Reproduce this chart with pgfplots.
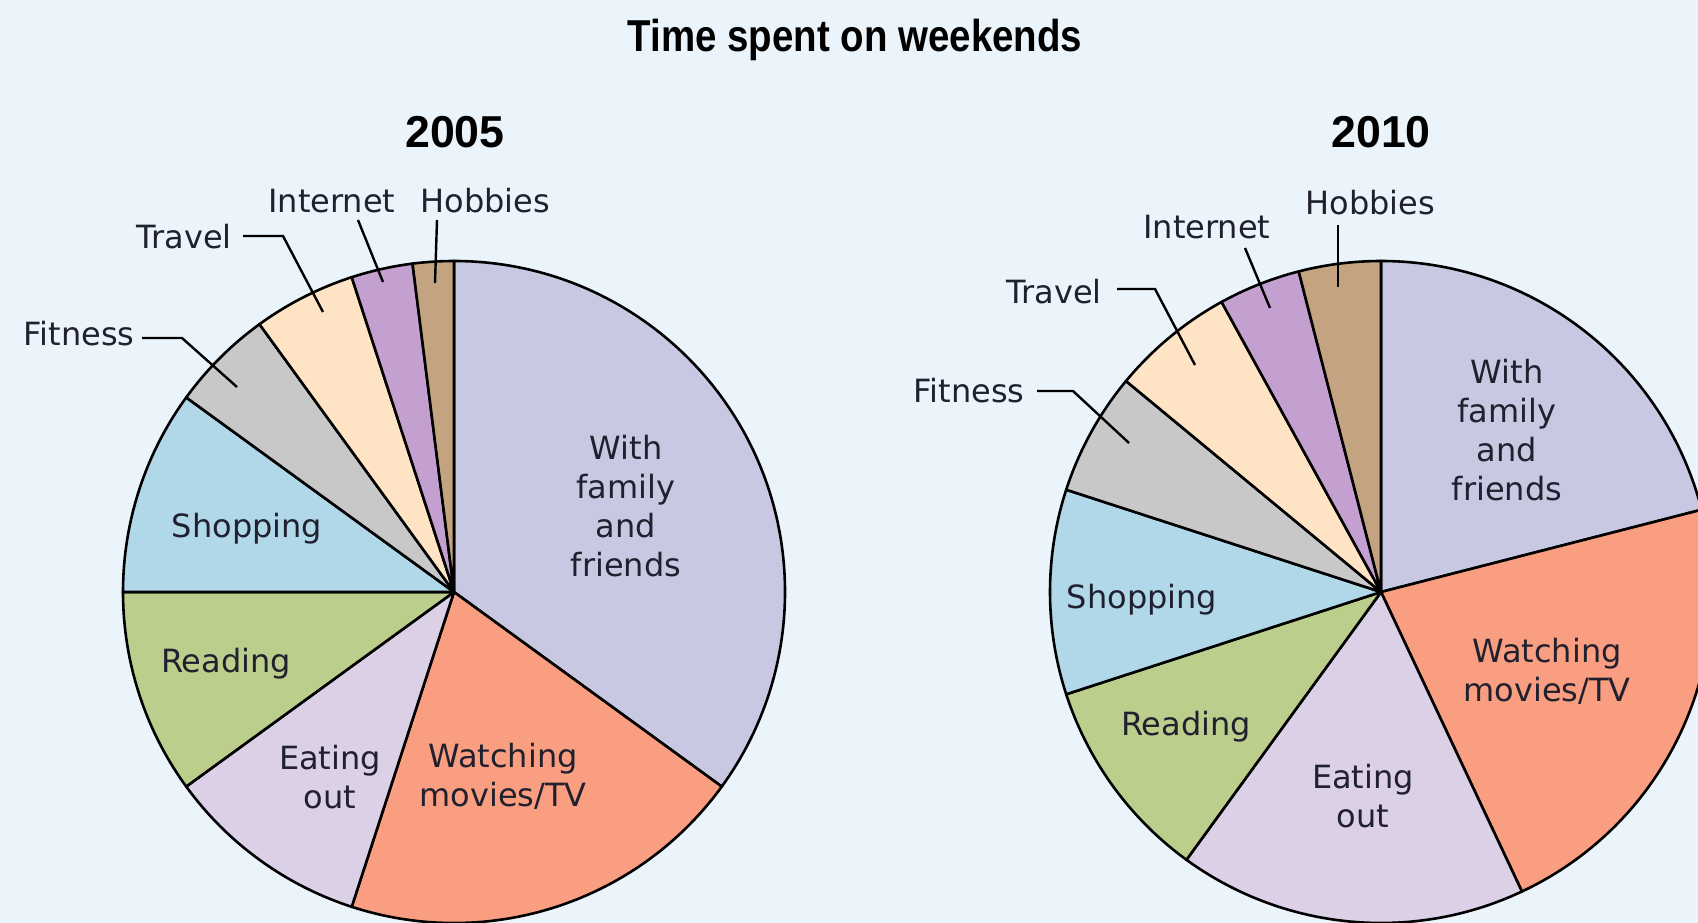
\documentclass[border=0pt]{standalone}
\usepackage{pgfplots}
\pgfplotsset{compat=1.18}
\usepackage{pgfplotstable}
\usepackage{fontspec}
\setmainfont{DejaVu Sans}
\newfontfamily\titlefont[FakeStretch=0.86]{Liberation Sans}
\newfontfamily\yearfont{Liberation Sans}

\definecolor{bgc}{HTML}{EAF4FA}
\definecolor{txt}{HTML}{20202E}
\definecolor{sl0}{HTML}{C8C8E2}% with family and friends
\definecolor{sl1}{HTML}{F99E80}% watching movies/TV
\definecolor{sl2}{HTML}{DCD0E6}% eating out
\definecolor{sl3}{HTML}{BCCE8C}% reading
\definecolor{sl4}{HTML}{B0D8E8}% shopping
\definecolor{sl5}{HTML}{C8C8C8}% fitness
\definecolor{sl6}{HTML}{FEE4C4}% travel
\definecolor{sl7}{HTML}{C4A0D0}% internet
\definecolor{sl8}{HTML}{C4A480}% hobbies

% percentages, clockwise from 12 o'clock
\pgfplotstableread{
activity pct
family   35
movies   20
eating   10
reading  10
shopping 10
fitness  5
travel   5
internet 3
hobbies  2
}\dataA
\pgfplotstableread{
activity pct
family   21
movies   22
eating   17
reading  10
shopping 10
fitness  6
travel   6
internet 4
hobbies  4
}\dataB

% cumulative angles
\newcommand\computeangles[2]{%
  \def\cur{90}%
  \pgfplotsforeachungrouped \i in {0,...,8}{%
    \pgfplotstablegetelem{\i}{pct}\of#1%
    \pgfmathsetmacro\nxt{\cur-3.6*\pgfplotsretval}%
    \expandafter\xdef\csname #2s\i\endcsname{\cur}%
    \expandafter\xdef\csname #2e\i\endcsname{\nxt}%
    \global\let\cur\nxt
  }%
}
\computeangles{\dataA}{A}
\computeangles{\dataB}{B}

\newcommand\labfont{\fontsize{16bp}{19.5bp}\selectfont\color{txt}}

\begin{document}
\begin{tikzpicture}
\useasboundingbox (0,0) rectangle (849bp,461.5bp);
\fill[bgc] (0,0) rectangle (849bp,461.5bp);
\clip (0,0) rectangle (849bp,461.5bp);
\begin{axis}[at={(0,0)}, anchor=south west, scale only axis,
  width=849bp, height=461.5bp,
  xmin=0, xmax=1698, ymin=0, ymax=923, y dir=reverse,
  hide axis, clip=false]
\addplot[draw=none] coordinates {(0,0) (1698,923)};
% 2005 pie
\pgfplotsinvokeforeach{0,...,8}{
  \fill[fill=sl#1, draw=black, line width=1.3bp, line join=round]
    (axis cs:454,592) -- ++(\csname As#1\endcsname:165.5bp)
    arc[start angle=\csname As#1\endcsname, end angle=\csname Ae#1\endcsname, radius=165.5bp] -- cycle;
}
% 2010 pie
\pgfplotsinvokeforeach{0,...,8}{
  \fill[fill=sl#1, draw=black, line width=1.3bp, line join=round]
    (axis cs:1381,592) -- ++(\csname Bs#1\endcsname:165.5bp)
    arc[start angle=\csname Bs#1\endcsname, end angle=\csname Be#1\endcsname, radius=165.5bp] -- cycle;
}
% title and years
\node[anchor=base] at (axis cs:855,52) {\titlefont\bfseries\fontsize{22.35bp}{26bp}\selectfont Time spent on weekends};
\node[anchor=base] at (axis cs:455,147) {\yearfont\bfseries\fontsize{22.35bp}{26bp}\selectfont 2005};
\node[anchor=base] at (axis cs:1381,147) {\yearfont\bfseries\fontsize{22.35bp}{26bp}\selectfont 2010};

% 2005 labels
\node[align=center, font=\labfont] at (axis cs:626,506) {With\\family\\and\\friends};
\node[align=center, font=\labfont] at (axis cs:503,776) {Watching\\movies/TV};
\node[align=center, font=\labfont] at (axis cs:330,777) {Eating\\out};
\node[anchor=base, font=\labfont] at (axis cs:226,672) {Reading};
\node[anchor=base, font=\labfont] at (axis cs:247,537) {Shopping};
\node[anchor=base east, font=\labfont, inner sep=0pt] at (axis cs:135,345) {Fitness};
\node[anchor=base east, font=\labfont, inner sep=0pt] at (axis cs:232,248) {Travel};
\node[anchor=base west, font=\labfont, inner sep=0pt] at (axis cs:268,212) {Internet};
\node[anchor=base west, font=\labfont, inner sep=0pt] at (axis cs:420,212) {Hobbies};
\draw[line width=1.2bp] (axis cs:142,338) -- (axis cs:182,338) -- (axis cs:237,387);
\draw[line width=1.2bp] (axis cs:243,236) -- (axis cs:283,236) -- (axis cs:323,312);
\draw[line width=1.2bp] (axis cs:358,220) -- (axis cs:383,282);
\draw[line width=1.2bp] (axis cs:437,220) -- (axis cs:435,283);

% 2010 labels
\node[align=center, font=\labfont] at (axis cs:1507,430) {With\\family\\and\\friends};
\node[align=center, font=\labfont] at (axis cs:1547,671) {Watching\\movies/TV};
\node[align=center, font=\labfont] at (axis cs:1363,796) {Eating\\out};
\node[anchor=base, font=\labfont] at (axis cs:1186,735) {Reading};
\node[anchor=base, font=\labfont] at (axis cs:1142,608) {Shopping};
\node[anchor=base east, font=\labfont, inner sep=0pt] at (axis cs:1025,402) {Fitness};
\node[anchor=base east, font=\labfont, inner sep=0pt] at (axis cs:1102,303) {Travel};
\node[anchor=base west, font=\labfont, inner sep=0pt] at (axis cs:1143,238) {Internet};
\node[anchor=base west, font=\labfont, inner sep=0pt] at (axis cs:1305,214) {Hobbies};
\draw[line width=1.2bp] (axis cs:1037,391) -- (axis cs:1073,391) -- (axis cs:1129,443);
\draw[line width=1.2bp] (axis cs:1117,289) -- (axis cs:1155,289) -- (axis cs:1195,365);
\draw[line width=1.2bp] (axis cs:1245,248) -- (axis cs:1270,308);
\draw[line width=1.2bp] (axis cs:1338,225) -- (axis cs:1338,287);
\end{axis}
\end{tikzpicture}
\end{document}
